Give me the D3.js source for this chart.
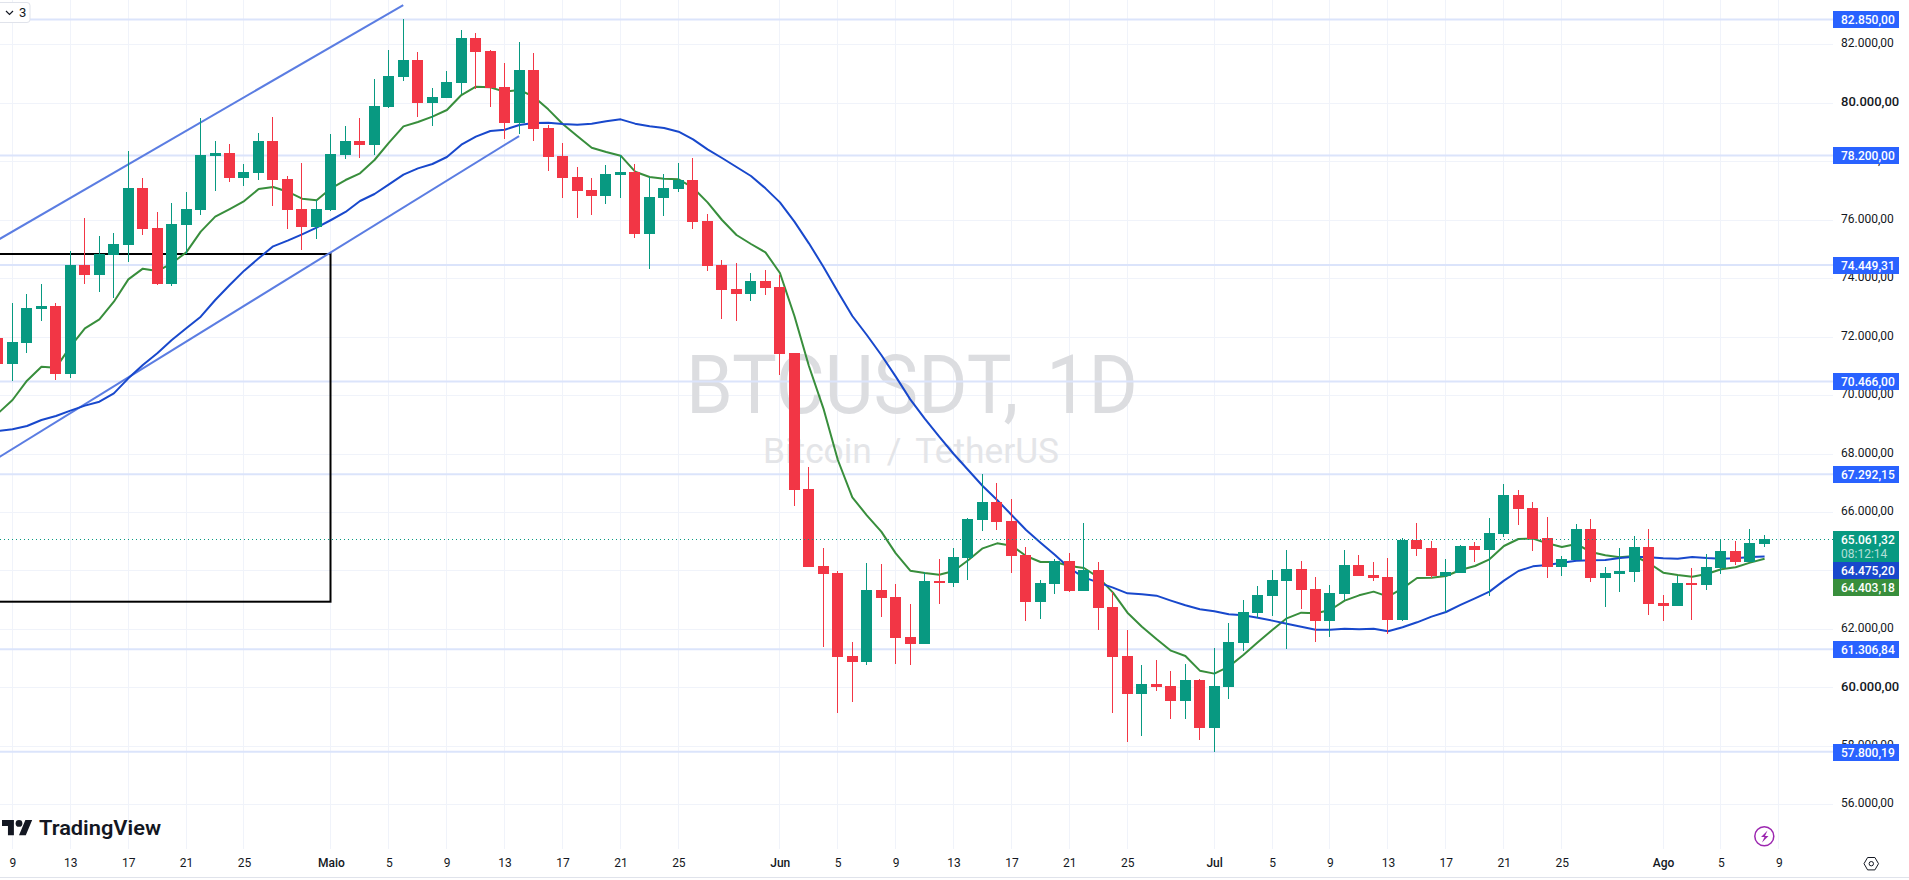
<!DOCTYPE html>
<html>
<head>
<meta charset="utf-8">
<title>BTCUSDT, 1D</title>
<script src="https://cdn.jsdelivr.net/npm/d3@7"></script>
<style>
    html, body { margin: 0; background: #fff; overflow: hidden; }
    text { font-family: Roboto, sans-serif; }
</style>
</head>
<body>
<div id="okvir"></div>
<script>
// daily candles, 8 Apr to 8 Aug
const firstDay = "2024-04-08"
const opens = [
    71950,71075,71793,72956,73047,70732,74450,74119,74792,75134,77084,75715,73800,75818,76331,78178,78281,77426,77597,78692,77392,76365,75738,
    76331,78213,78692,78555,79855,80881,81462,79992,80163,80676,82215,81770,80539,79307,81120,79136,78178,77460,77015,76810,77528,77631,75510,76742,77049,77357,75955,74450,73629,73458,73902,
    73697,71439,66787,64153,63913,61074,60869,63332,63092,61724,61484,63640,63571,64426,65726,66342,65692,64529,62921,63537,64324,63298,64016,62750,61074,59774,60116,60048,59534,60253,
    58611,60013,61519,62545,63126,63640,64050,63366,62271,63195,64187,63845,63776,62305,65042,64768,63811,63913,64837,64700,65247,66582,66137,65111,64119,64358,65418,63742,63879,63947,64803,
    62887,62784,63571,63503,64084,64666,64290,64905]
const highs = [
    72230,73150,73458,73800,73150,74929,76057,75442,75544,78349,77426,76263,76571,76947,79478,78692,78589,77905,78965,79513,77494,77939,76673,
    78931,79205,79478,80813,81805,82865,81736,80505,81086,82489,82386,81805,81360,82078,81702,79239,78623,77802,77426,77871,78213,77905,77460,77563,77939,78110,76194,74621,74518,74176,74279,
    74108,71439,67539,64768,63982,61553,64255,64221,63537,62853,63947,64392,64768,65795,67300,66992,66445,64803,63674,64392,64598,65624,64290,63263,61963,60766,60937,60561,60800,60287,
    61348,62203,62990,63469,64016,64700,64324,63776,63503,64700,64529,64290,64426,65111,65624,65008,64392,64871,64974,65795,66958,66753,66342,65829,64495,65589,65761,64119,64768,65179,65418,
    63161,63811,64084,64563,65042,65008,65418,65213]
const lows = [
    70740,70493,71451,72545,70527,70595,73811,73537,73332,74564,75476,73765,73743,74826,76160,76981,77289,77152,77357,76468,75681,74963,75339,
    76308,78076,78110,78213,79820,80744,79513,79205,80163,80299,80470,79855,78760,78931,78692,77665,76742,76057,76160,76536,76742,75373,74313,76126,76947,75681,74244,72602,72545,73218,73423,
    70687,66205,64119,61382,59124,59500,60766,62408,60800,60766,61484,62853,63434,63674,65350,65384,63913,62271,62340,63195,63263,63298,61963,59124,58132,58337,59877,58919,58919,58200,
    57790,59603,61245,62374,62442,61313,62682,61553,61724,62990,63811,63640,61827,62271,64495,63742,62579,63913,64290,63126,65145,65555,64666,63742,63811,64358,63605,62750,63263,63605,62477,
    62271,62784,62305,63332,63879,64187,64290,64803]
const closes = [
    71075,71816,72979,73047,70732,74450,74119,74826,75168,77084,75681,73800,75852,76365,78213,78281,77426,77631,78692,77357,76331,75750,76365,
    78247,78692,78555,79889,80915,81462,79992,80197,80710,82215,81736,80505,79307,81120,79102,78144,77426,76981,76810,77563,77631,75510,76776,77084,77357,75921,74415,73594,73458,73902,73663,
    71405,66753,64119,63879,61040,60869,63332,63058,61690,61484,63640,63571,64461,65761,66342,65658,64495,62921,63571,64324,63298,64016,62716,61040,59774,60116,60013,59534,60253,58611,
    60048,61553,62579,63161,63674,64050,63332,62271,63229,64187,63811,63742,62305,65042,64734,63811,63947,64837,64700,65282,66582,66103,65065,64119,64392,65418,63742,63913,63982,64803,62853,
    62784,63571,63503,64119,64666,64290,64940,65061.32]

// moving averages
const emaGreen = [
    69375,69831,70493,70972,70938,71656,72283,72591,73195,73959,74324,74244,74507,74883,75590,76103,76365,76639,77049,77118,76958,76719,76662,
    77072,77357,77585,78042,78635,79193,79342,79524,79752,80265,80550,80527,80379,80436,80208,79775,79273,78863,78463,78315,78190,77642,77460,77403,77380,77095,76593,75989,75476,75168,74883,
    74176,72705,70995,69546,67779,66502,65886,65327,64586,63993,63913,63856,63982,64347,64757,64928,64848,64495,64290,64290,64153,64084,63765,63241,62556,62077,61655,61256,61074,60572,
    60470,60709,61108,61541,61963,62362,62556,62533,62648,62967,63149,63275,63104,63389,63742,63754,63811,64016,64153,64381,64837,65076,65088,64928,64803,64905,64632,64518,64449,64495,64255,
    63925,63845,63788,63879,64039,64107,64267,64403.18]
const emaBlue = [
    68771,68828,68942,69147,69284,69467,69638,69774,70059,70573,71029,71428,71884,72283,72682,73252,73765,74256,74678,75088,75282,75499,75727,
    75989,76263,76639,76878,77209,77540,77756,77905,78144,78566,78840,79034,79079,79239,79307,79319,79273,79250,79285,79364,79433,79285,79193,79136,79011,78749,78406,78110,77802,77494,77072,
    76593,75932,75191,74393,73537,72705,72055,71371,70630,69854,69193,68577,67984,67437,66889,66410,65897,65384,64951,64529,64073,63765,63583,63412,63218,63183,63138,62967,62807,62670,
    62602,62499,62465,62385,62283,62180,62077,61975,61975,62009,61986,62009,61918,62055,62226,62419,62579,62819,63047,63275,63651,63982,64141,64187,64267,64335,64347,64358,64426,64472,64449,
    64415,64404,64461,64426,64404,64415,64461,64475.20]

// horizontal levels drawn by hand on the chart
const levels = [82850, 78200, 74449.31, 70466, 67292.15, 61306.84, 57800.19]
// channel lines: [date, price] at both ends
const channelUp = [["2024-04-08", 75305], ["2024-05-06", 83344]]
const channelDown = [["2024-04-08", 67847], ["2024-05-14", 78862]]
const boxDates = ["2024-03-20", "2024-05-01"]
const boxPrices = [74826, 62931]

const priceTicks = d3.range(56000, 82001, 2000)
const majorPrices = [60000, 80000]
const dateTicks = ["04-09","04-13","04-17","04-21","04-25","05-01","05-05","05-09","05-13","05-17","05-21","05-25",
    "06-01","06-05","06-09","06-13","06-17","06-21","06-25","07-01","07-05","07-09","07-13","07-17","07-21","07-25",
    "08-01","08-05","08-09"].map(d => new Date("2024-" + d))
const monthNames = { 4: "Maio", 5: "Jun", 6: "Jul", 7: "Ago" }

const lastPrice = 65061.32
const countdown = "08:12:14"
const emaBlueLast = 64475.20
const emaGreenLast = 64403.18

const green = "#089981", red = "#f23645", levelBlue = "#2962ff"
const width = 1909, height = 880
const plotRight = 1833, plotBottom = 849

const days = d3.utcDay.range(new Date(firstDay), d3.utcDay.offset(new Date(firstDay), opens.length))

const xScale = d3.scaleUtc()
    .domain([new Date("2024-04-09"), new Date("2024-08-09")])
    .range([12.3, 1778.86])
const yScale = d3.scaleLinear()
    .domain([82000, 56000])
    .range([44.3, 804.3])

// candles sit on whole pixels
const px = d => Math.floor(xScale(d))

const brFormat = d3.formatLocale({ decimal: ",", thousands: ".", grouping: [3], currency: ["", ""] }).format(",.2f")

const svg = d3.select("#okvir").append("svg")
    .attr("width", width)
    .attr("height", height)
    .style("display", "block")

// grid
const grid = svg.append("g").attr("shape-rendering", "crispEdges").attr("stroke", "#f0f3fa")
grid.selectAll(".h").data(priceTicks).join("line")
    .attr("x1", 0).attr("x2", plotRight)
    .attr("y1", d => Math.round(yScale(d)) + 0.5).attr("y2", d => Math.round(yScale(d)) + 0.5)
grid.selectAll(".v").data(dateTicks).join("line")
    .attr("x1", d => px(d) + 0.5).attr("x2", d => px(d) + 0.5)
    .attr("y1", 0).attr("y2", plotBottom)

// watermark
svg.append("text").text("BTCUSDT, 1D")
    .attr("x", 686).attr("y", 413)
    .attr("font-size", 81)
    .attr("word-spacing", 10)
    .attr("textLength", 452)
    .attr("lengthAdjust", "spacingAndGlyphs")
    .attr("fill", "#dcddE0")
svg.append("text").text("Bitcoin / TetherUS")
    .attr("x", 763).attr("y", 463)
    .attr("font-size", 35)
    .attr("word-spacing", 6)
    .attr("textLength", 296)
    .attr("lengthAdjust", "spacingAndGlyphs")
    .attr("fill", "#e4e5e8")

// levels
svg.append("g").selectAll("line").data(levels).join("line")
    .attr("x1", 0).attr("x2", plotRight)
    .attr("y1", d => yScale(d)).attr("y2", d => yScale(d))
    .attr("stroke", "#dbe4fb")
    .attr("stroke-width", 2)

// black box
svg.append("rect")
    .attr("x", xScale(new Date(boxDates[0])))
    .attr("y", yScale(boxPrices[0]))
    .attr("width", px(new Date(boxDates[1])) + 0.5 - xScale(new Date(boxDates[0])))
    .attr("height", yScale(boxPrices[1]) - yScale(boxPrices[0]))
    .attr("fill", "none")
    .attr("stroke", "#000")
    .attr("stroke-width", 2)

// channel
const channelLine = d3.line()
    .x(d => xScale(new Date(d[0])))
    .y(d => yScale(d[1]))
svg.append("g").selectAll("path").data([channelUp, channelDown]).join("path")
    .attr("d", channelLine)
    .attr("fill", "none")
    .attr("stroke", "#5b7de2")
    .attr("stroke-width", 2)

// moving averages, under the candles
const emaLine = d3.line()
    .x((d, i) => xScale(days[i]) + 0.2)
    .y(d => yScale(d))
svg.append("path").attr("d", emaLine(emaGreen))
    .attr("fill", "none").attr("stroke", "#388e3c").attr("stroke-width", 2).attr("stroke-linejoin", "round")
svg.append("path").attr("d", emaLine(emaBlue))
    .attr("fill", "none").attr("stroke", "#1848cc").attr("stroke-width", 2).attr("stroke-linejoin", "round")

// candles
const candles = svg.append("g").attr("shape-rendering", "crispEdges")
    .selectAll("g").data(days).join("g")
    .attr("fill", (d, i) => closes[i] >= opens[i] ? green : red)
candles.append("rect")
    .attr("x", d => px(d))
    .attr("width", 1)
    .attr("y", (d, i) => Math.round(yScale(highs[i])))
    .attr("height", (d, i) => Math.round(yScale(lows[i])) - Math.round(yScale(highs[i])))
candles.append("rect")
    .attr("x", d => px(d) - 5)
    .attr("width", 11)
    .attr("y", (d, i) => Math.round(yScale(Math.max(opens[i], closes[i]))))
    .attr("height", (d, i) => Math.max(2, Math.round(yScale(Math.min(opens[i], closes[i]))) - Math.round(yScale(Math.max(opens[i], closes[i])))))

// last price dotted
svg.append("line")
    .attr("x1", 0).attr("x2", plotRight)
    .attr("y1", Math.round(yScale(lastPrice)) + 0.5).attr("y2", Math.round(yScale(lastPrice)) + 0.5)
    .attr("stroke", green)
    .attr("stroke-dasharray", "1 3")

// price axis
const yAxis = d3.axisRight(yScale)
    .tickValues(priceTicks)
    .tickFormat(brFormat)
    .tickSize(0)
    .tickPadding(8)
const yAxisG = svg.append("g")
    .attr("transform", `translate(${plotRight},0)`)
    .call(yAxis)
yAxisG.select(".domain").remove()
yAxisG.selectAll("text")
    .attr("dy", "0.22em")
    .attr("fill", "#131722")
    .attr("font-size", d => majorPrices.includes(d) ? 13 : 12)
    .attr("font-weight", d => majorPrices.includes(d) ? 500 : 400)

// time axis
const xAxis = d3.axisBottom(xScale)
    .tickValues(dateTicks)
    .tickFormat(d => d.getUTCDate() === 1 ? monthNames[d.getUTCMonth()] : d.getUTCDate())
    .tickSize(0)
    .tickPadding(9)
const xAxisG = svg.append("g")
    .attr("transform", `translate(0,${plotBottom})`)
    .call(xAxis)
xAxisG.select(".domain").remove()
xAxisG.selectAll("text")
    .attr("fill", "#131722")
    .attr("font-size", 12)
    .attr("font-weight", d => d.getUTCDate() === 1 ? 500 : 400)

svg.append("line")
    .attr("x1", 0).attr("x2", width)
    .attr("y1", 877.5).attr("y2", 877.5)
    .attr("stroke", "#e0e3eb")

// price tags on the right
function priceTag(y, h, color, text) {
    svg.append("rect")
        .attr("x", plotRight).attr("y", y)
        .attr("width", 66).attr("height", h)
        .attr("fill", color)
    svg.append("text").text(text)
        .attr("x", plotRight + 8).attr("y", y + 12.5)
        .attr("font-size", 12)
        .attr("font-weight", 500)
        .attr("fill", "#fff")
}
levels.forEach(d => priceTag(Math.round(yScale(d)) - 8, 17, levelBlue, brFormat(d)))
priceTag(531, 31, green, brFormat(lastPrice))
svg.append("text").text(countdown)
    .attr("x", plotRight + 8).attr("y", 558)
    .attr("font-size", 12)
    .attr("fill", "#fff").attr("fill-opacity", 0.7)
priceTag(562, 17, "#1848cc", brFormat(emaBlueLast))
priceTag(579, 17, "#388e3c", brFormat(emaGreenLast))

// collapse button
svg.append("rect")
    .attr("x", -3).attr("y", 2.5).attr("width", 33).attr("height", 20).attr("rx", 3)
    .attr("fill", "#fff").attr("stroke", "#e0e3eb")
svg.append("path").attr("d", "M6 11l3.5 3.5L13 11")
    .attr("fill", "none").attr("stroke", "#131722").attr("stroke-width", 1.2)
svg.append("text").text("3")
    .attr("x", 19).attr("y", 17).attr("font-size", 13).attr("fill", "#131722")

// logo
const logo = svg.append("g").attr("transform", "translate(2,816.6) scale(0.85)").attr("fill", "#131722")
logo.append("path").attr("d", "M14 22H7V11H0V4h14v18zM28 22h-8l7.5-18h8L28 22z")
logo.append("circle").attr("cx", 20).attr("cy", 8).attr("r", 4)
svg.append("text").text("TradingView")
    .attr("x", 39).attr("y", 835)
    .attr("font-family", "Inter, sans-serif")
    .attr("font-size", 21)
    .attr("font-weight", 600)
    .attr("textLength", 122)
    .attr("lengthAdjust", "spacingAndGlyphs")
    .attr("fill", "#131722")

// lightning badge
svg.append("circle")
    .attr("cx", 1764.3).attr("cy", 836.3).attr("r", 9.5)
    .attr("fill", "#fff").attr("stroke", "#9c27b0").attr("stroke-width", 1.5)
svg.append("path")
    .attr("d", "M1767.5 830.5l-6.5 6.5h3.5l-2.5 5.5 6.5-6.5h-3.5z")
    .attr("fill", "#9c27b0")

// settings icon
svg.append("path")
    .attr("d", "M1864 863.7l3.6-6.2h7.3l3.6 6.2-3.6 6.2h-7.3z")
    .attr("fill", "none").attr("stroke", "#131722")
svg.append("circle")
    .attr("cx", 1871.3).attr("cy", 863.7).attr("r", 2.2)
    .attr("fill", "none").attr("stroke", "#131722")
</script>
</body>
</html>
